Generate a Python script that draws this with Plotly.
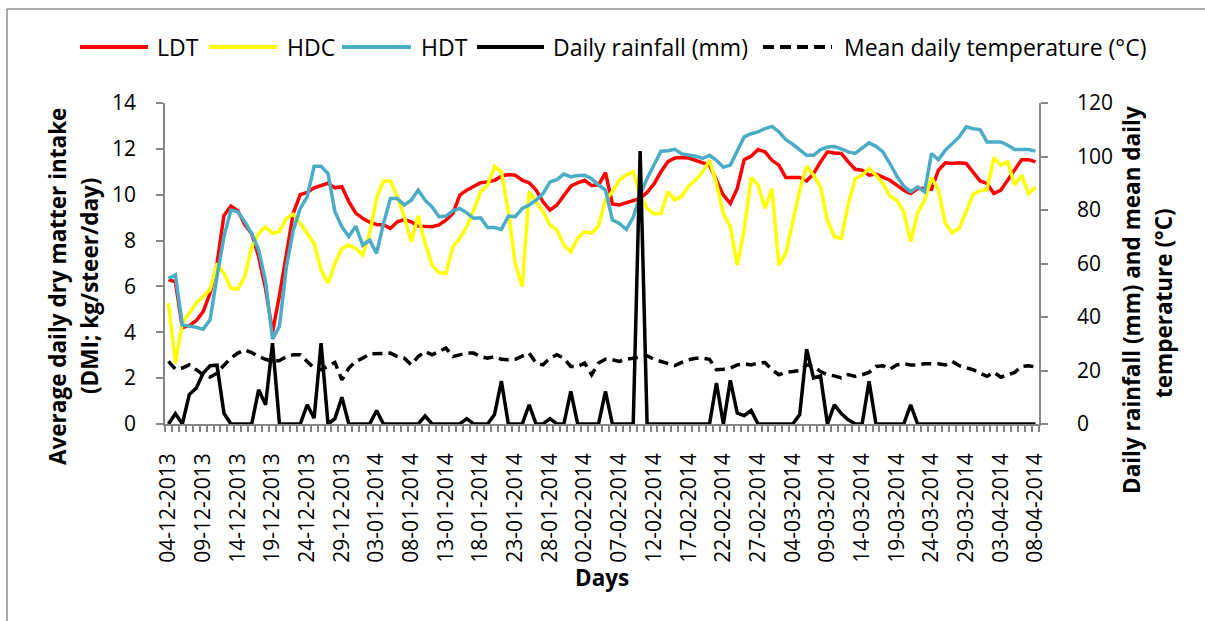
import pandas as pd
import plotly.graph_objects as go

# Daily records, 4 Dec 2013 - 8 Apr 2014
days = pd.date_range("2013-12-04", periods=126, freq="D")

# Average daily dry matter intake (kg/steer/day)
ldt = [6.3, 6.2, 4.2, 4.3, 4.5, 4.9, 5.7, 7.0, 9.1, 9.5,
       9.3, 8.7, 8.3, 7.3, 5.9, 4.0, 5.6, 7.5, 9.2, 10.0,
       10.1, 10.3, 10.4, 10.5, 10.3, 10.35, 9.7, 9.2, 8.97, 8.8,
       8.7, 8.68, 8.53, 8.82, 8.92, 8.82, 8.63, 8.6, 8.6, 8.68,
       8.89, 9.18, 9.98, 10.2, 10.37, 10.52, 10.56, 10.63, 10.81, 10.88,
       10.85, 10.63, 10.52, 10.2, 9.69, 9.33, 9.55, 9.94, 10.37, 10.52,
       10.63, 10.4, 10.42, 10.96, 9.6, 9.55, 9.65, 9.74, 9.84, 10.1,
       10.47, 11.0, 11.44, 11.6, 11.62, 11.6, 11.5, 11.39, 11.29, 10.63,
       9.98, 9.62, 10.27, 11.53, 11.68, 11.97, 11.87, 11.5, 11.29, 10.75,
       10.75, 10.75, 10.6, 10.92, 11.43, 11.87, 11.82, 11.8, 11.43, 11.11,
       11.07, 10.85, 10.9, 10.75, 10.63, 10.42, 10.2, 10.05, 10.27, 10.27,
       10.23, 11.07, 11.39, 11.36, 11.39, 11.36, 11.0, 10.6, 10.49, 10.05,
       10.2, 10.63, 11.07, 11.53, 11.53, 11.43]

hdc = [5.27, 2.65, 4.4, 4.83, 5.27, 5.56, 5.85, 7.0, 6.57, 5.92,
       5.88, 6.43, 7.73, 8.31, 8.6, 8.31, 8.39, 8.97, 9.15, 8.75,
       8.31, 7.88, 6.72, 6.14, 7.0, 7.66, 7.8, 7.66, 7.37, 8.31,
       9.85, 10.6, 10.6, 9.91, 9.04, 7.95, 9.07, 7.88, 6.93, 6.6,
       6.57, 7.73, 8.1, 8.6, 9.33, 10.13, 10.42, 11.24, 11.0, 9.26,
       7.0, 5.99, 10.13, 9.69, 9.26, 8.68, 8.46, 7.8, 7.51, 8.1,
       8.39, 8.32, 8.64, 9.77, 10.13, 10.64, 10.86, 11.0, 9.99, 9.41,
       9.16, 9.19, 10.13, 9.77, 9.94, 10.38, 10.64, 11.0, 11.5, 10.49,
       9.18, 8.6, 6.93, 8.46, 10.75, 10.42, 9.4, 10.27, 6.93, 7.44,
       8.89, 10.2, 11.24, 10.85, 10.34, 8.89, 8.17, 8.1, 9.6, 10.7,
       10.85, 11.14, 10.85, 10.49, 9.94, 9.76, 9.26, 7.95, 9.21, 9.76,
       10.75, 10.2, 8.75, 8.34, 8.53, 9.26, 10.02, 10.17, 10.23, 11.62,
       11.29, 11.43, 10.42, 10.85, 10.05, 10.34]

hdt = [6.35, 6.5, 4.32, 4.28, 4.22, 4.13, 4.54, 6.43, 8.17, 9.33,
       9.26, 8.82, 8.31, 7.6, 6.2, 3.7, 4.25, 6.86, 8.46, 9.4,
       9.91, 11.24, 11.24, 10.92, 9.26, 8.6, 8.17, 8.63, 7.8, 8.02,
       7.44, 8.75, 9.84, 9.84, 9.55, 9.76, 10.2, 9.76, 9.47, 9.04,
       9.07, 9.3, 9.4, 9.21, 8.97, 8.99, 8.57, 8.57, 8.49, 9.07,
       9.04, 9.4, 9.55, 9.76, 10.05, 10.56, 10.66, 10.9, 10.78, 10.84,
       10.85, 10.7, 10.42, 10.2, 8.9, 8.75, 8.49, 9.01, 9.99, 10.71,
       11.3, 11.9, 11.92, 11.98, 11.78, 11.74, 11.68, 11.58, 11.72, 11.5,
       11.2, 11.29, 11.87, 12.52, 12.66, 12.74, 12.88, 12.98, 12.74, 12.4,
       12.2, 11.94, 11.72, 11.72, 11.97, 12.08, 12.1, 12.0, 11.87, 11.8,
       12.01, 12.26, 12.11, 11.87, 11.36, 10.81, 10.37, 10.13, 10.34, 10.13,
       11.8, 11.53, 11.94, 12.23, 12.52, 12.96, 12.88, 12.84, 12.3, 12.3,
       12.3, 12.16, 11.97, 11.97, 11.97, 11.9]

# Daily rainfall (mm)
rainfall = [0, 3.9, 0, 11, 13.4, 19, 21.8, 22, 4, 0,
            0, 0, 0, 12.8, 7.2, 30.2, 0, 0, 0, 0,
            7.2, 2.2, 30.2, 0, 2, 10, 0, 0, 0, 0,
            5, 0, 0, 0, 0, 0, 0, 3, 0, 0,
            0, 0, 0, 2, 0, 0, 0, 3.5, 16, 0,
            0, 0, 7.2, 0, 0, 2, 0, 0, 12.2, 0,
            0, 0, 0, 12.2, 0, 0, 0, 0, 102, 0,
            0, 0, 0, 0, 0, 0, 0, 0, 0, 15.3,
            0, 16.3, 4.1, 3.1, 5.1, 0, 0, 0, 0, 0,
            0, 3.5, 28, 17.2, 18, 0, 7.2, 3.9, 1.6, 0,
            0, 16, 0, 0, 0, 0, 0, 7.2, 0, 0,
            0, 0, 0, 0, 0, 0, 0, 0, 0, 0,
            0, 0, 0, 0, 0, 0]

# Mean daily temperature (°C)
temperature = [23.4, 20.5, 20.9, 22.1, 20.3, 18.4, 17.5, 19, 22, 24.6,
               26.5, 27.7, 26.7, 25.2, 24.2, 23.4, 23.7, 25.2, 25.9, 25.9,
               23.4, 20.9, 20.3, 21.5, 23, 16.5, 20.9, 23.4, 24.6, 26.2,
               26.4, 26.5, 26.5, 25.2, 24.6, 22.1, 25.2, 27.1, 25.9, 27.1,
               28.4, 25.2, 25.9, 26.5, 26.5, 25.2, 24.6, 25.2, 24.2, 24,
               24.2, 25.2, 26.5, 22.8, 22.1, 24.6, 25.9, 24.6, 21.5, 21.5,
               22.8, 18.4, 22.8, 24.2, 24, 23.4, 24.2, 24.6, 25, 25.5,
               24.2, 23.4, 22.5, 21.8, 23, 24, 24.6, 24.6, 24.2, 20.3,
               20.5, 20.9, 22.1, 22.5, 22.1, 22.8, 23, 20.3, 18.4, 19.3,
               19.6, 20, 22.1, 21.5, 19.6, 18.4, 18, 17.2, 18.5, 17.8,
               18.4, 19.3, 21.5, 21.8, 20.5, 22.1, 22.5, 22.1, 22.1, 22.5,
               22.5, 22.5, 22.1, 23.4, 21.8, 20.9, 20.3, 19, 17.8, 19.3,
               17.5, 18.4, 19.3, 21.5, 21.8, 21.3]

series_names = ["LDT", "HDC", "HDT", "Daily rainfall (mm)", "Mean daily temperature (°C)"]
series_colors = ["#FF0000", "#FFFF00", "#4BACC6", "#000000", "#000000"]

FONT = "Open Sans"
W, H = 1205, 621
L, R, T, B = 165, 1039, 103, 424   # plot area in pixels
AXIS_GREY = "#868686"


def px_x(px):
    return (px - L) / (R - L)


def px_y(py):
    return (B - py) / (B - T)


fig = go.Figure()

line_w = 3.5
for name, vals, col in zip(series_names[:3], [ldt, hdc, hdt], series_colors[:3]):
    fig.add_trace(go.Scatter(x=days, y=vals, name=name, mode="lines",
                             line=dict(color=col, width=line_w),
                             showlegend=False, yaxis="y"))

fig.add_trace(go.Scatter(x=days, y=rainfall, name=series_names[3], mode="lines",
                         line=dict(color="#000000", width=line_w),
                         showlegend=False, yaxis="y2"))
fig.add_trace(go.Scatter(x=days, y=temperature, name=series_names[4], mode="lines",
                         line=dict(color="#000000", width=line_w, dash="10px,6px"),
                         showlegend=False, yaxis="y2"))

tick_font = dict(family=FONT, size=21, color="#000000")
title_font = dict(family=FONT, size=22.5, color="#000000")

half_day = pd.Timedelta(hours=12)
fig.update_layout(
    width=W, height=H,
    margin=dict(l=L, r=W - R, t=T, b=H - B, pad=0),
    paper_bgcolor="white", plot_bgcolor="white",
    showlegend=False,
    xaxis=dict(
        type="date",
        range=[days[0] - half_day, days[-1] + half_day],
        tick0=days[0], dtick=5 * 86400000,
        tickformat="%d-%m-%Y", tickangle=-90,
        ticks="", ticklabelstandoff=19,
        tickfont=tick_font,
        showline=True, linecolor=AXIS_GREY, linewidth=1.5,
        showgrid=False, zeroline=False,
        minor=dict(ticks="outside", ticklen=6, tickwidth=1.5, tickcolor=AXIS_GREY,
                   tick0=days[0] - half_day, dtick=86400000, showgrid=False),
    ),
    yaxis=dict(
        range=[0, 14], dtick=2, tick0=0,
        ticks="outside", ticklen=7, tickwidth=1.5, tickcolor=AXIS_GREY,
        ticklabelstandoff=16,
        tickfont=tick_font,
        showline=True, linecolor=AXIS_GREY, linewidth=1.5,
        showgrid=False, zeroline=False,
    ),
    yaxis2=dict(
        range=[0, 120], dtick=20, tick0=0,
        overlaying="y", side="right",
        ticks="outside", ticklen=7, tickwidth=1.5, tickcolor=AXIS_GREY,
        ticklabelstandoff=25,
        tickfont=tick_font,
        showline=True, linecolor=AXIS_GREY, linewidth=1.5,
        showgrid=False, zeroline=False,
    ),
)

annotations = []
shapes = []

# Axis titles
annotations.append(dict(text="<b>Days</b>", x=px_x(602), y=px_y(577), xref="paper", yref="paper",
                        showarrow=False, xanchor="center", yanchor="middle", font=title_font))
for txt, cx, cy in [("Average daily dry matter intake", 57, 287),
                    ("(DMI; kg/steer/day)", 89, 286),
                    ("Daily rainfall (mm) and mean daily", 1131, 300),
                    ("temperature (°C)", 1163, 303)]:
    annotations.append(dict(text=f"<b>{txt}</b>", x=px_x(cx), y=px_y(cy), xref="paper", yref="paper",
                            showarrow=False, xanchor="center", yanchor="middle",
                            textangle=-90, font=title_font))

# Legend row along the top
legend_y = 47
legend_items = [(80, 148, 155), (209, 277, 285), (342, 411, 419), (477, 544, 551), (763, 832, 842)]
for (x0, x1, tx), name, col, dashed in zip(legend_items, series_names, series_colors,
                                           [False, False, False, False, True]):
    shapes.append(dict(type="line", xref="paper", yref="paper",
                       x0=px_x(x0), x1=px_x(x1), y0=px_y(legend_y), y1=px_y(legend_y),
                       line=dict(color=col, width=4, dash="11px,6px" if dashed else "solid")))
    annotations.append(dict(text=name, x=px_x(tx), y=px_y(legend_y), xref="paper", yref="paper",
                            showarrow=False, xanchor="left", yanchor="middle",
                            font=dict(family=FONT, size=23, color="#000000")))

# Chart-area frame (left and top edges)
shapes.append(dict(type="line", xref="paper", yref="paper", x0=px_x(7), x1=px_x(7),
                   y0=px_y(9), y1=px_y(640), line=dict(color="#8C8C8C", width=1.5)))
shapes.append(dict(type="line", xref="paper", yref="paper", x0=px_x(7), x1=px_x(1220),
                   y0=px_y(9), y1=px_y(9), line=dict(color="#8C8C8C", width=1.5)))

fig.update_layout(annotations=annotations, shapes=shapes)

fig.write_html("out.html")
